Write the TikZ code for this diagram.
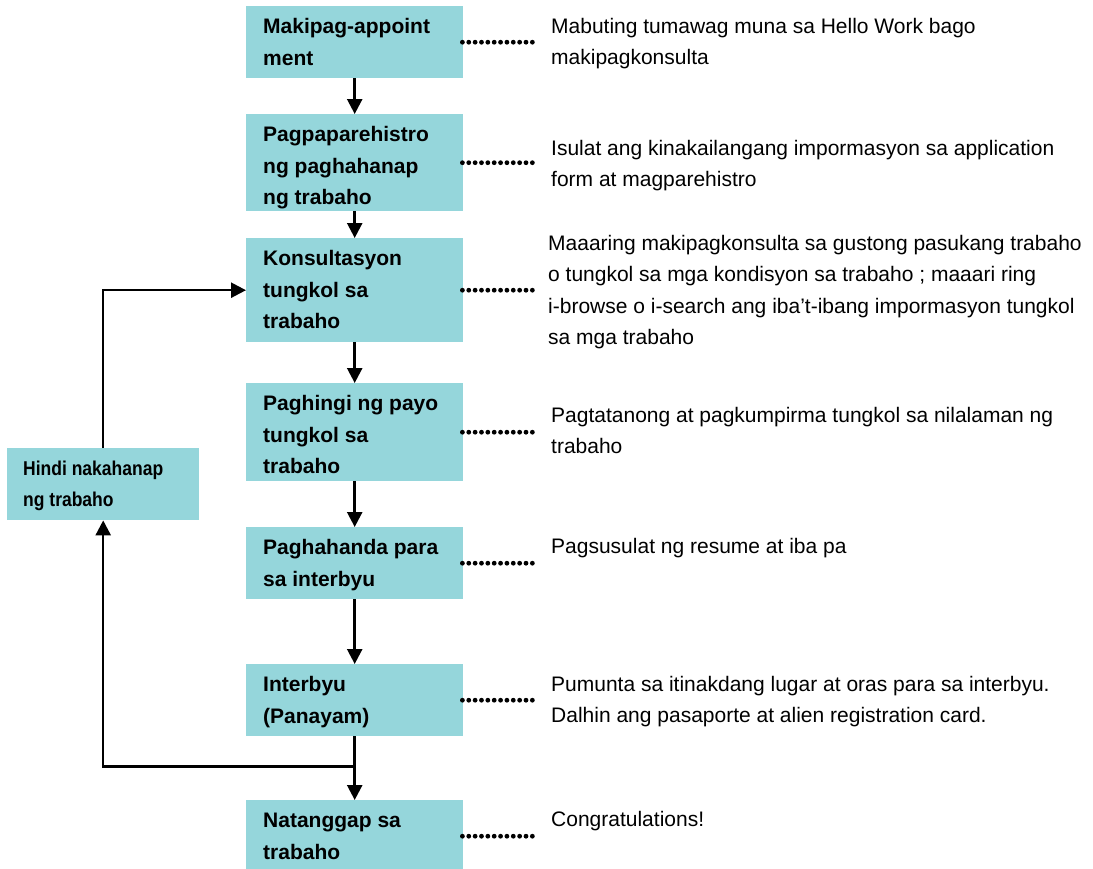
\documentclass[tikz,border=0pt]{standalone}
\usepackage{fontspec}
\setmainfont{Liberation Sans}
\newfontfamily\narrowfont[FakeStretch=0.875]{Liberation Sans}
\usetikzlibrary{arrows.meta}
\definecolor{boxc}{RGB}{149,214,219}

\newcommand\flowtext[2]{\parbox[c][#1][t]{217pt}{\fontsize{21pt}{31.5pt}\selectfont\bfseries\raggedright\leftskip=17pt\rule{0pt}{27.3pt}#2}}
\newcommand\desctext[1]{\parbox[t]{545pt}{\fontsize{21pt}{31.5pt}\selectfont\raggedright #1}}

\tikzset{
  flow/.style={fill=boxc, draw=none, inner sep=0pt, anchor=north west, minimum width=217pt},
  desc/.style={anchor=base west, inner sep=0pt},
  arr/.style={line width=2.5pt, -{Triangle[length=15pt,width=15pt]}},
  leader/.style={line width=4.8pt, line cap=round, dash pattern=on 0pt off 6.36pt}
}

\begin{document}
\begin{tikzpicture}[x=1pt,y=-1pt]
\useasboundingbox (0,0) rectangle (1093,868);

% main column boxes
\node[flow, minimum height=72pt] (B1) at (246,6) {\flowtext{72pt}{Makipag-appoint\\ment}};
\node[flow, minimum height=97pt] (B2) at (246,114) {\flowtext{97pt}{Pagpaparehistro\\ng paghahanap\\ng trabaho}};
\node[flow, minimum height=104pt] (B3) at (246,238) {\flowtext{104pt}{Konsultasyon\\tungkol sa\\trabaho}};
\node[flow, minimum height=98pt] (B4) at (246,383) {\flowtext{98pt}{Paghingi ng payo\\tungkol sa\\trabaho}};
\node[flow, minimum height=72pt] (B5) at (246,527) {\flowtext{72pt}{Paghahanda para\\sa interbyu}};
\node[flow, minimum height=72pt] (B6) at (246,664) {\flowtext{72pt}{Interbyu\\(Panayam)}};
\node[flow, minimum height=72pt] (B7) at (246,800) {\flowtext{72pt}{Natanggap sa\\trabaho}};

% left box
\node[flow, minimum width=192pt, minimum height=72pt] (L) at (7,448)
  {\parbox[c][72pt][t]{192pt}{\narrowfont\fontsize{20pt}{31pt}\selectfont\bfseries\raggedright\leftskip=16pt\rule{0pt}{27pt}Hindi nakahanap\\ng trabaho}};

% descriptions
\node[desc] (R1) at (551,33) {\desctext{Mabuting tumawag muna sa Hello Work bago\\makipagkonsulta}};
\node[desc] (R2) at (551,155) {\desctext{Isulat ang kinakailangang impormasyon sa application\\form at magparehistro}};
\node[desc] (R3) at (548,250) {\desctext{Maaaring makipagkonsulta sa gustong pasukang trabaho\\o tungkol sa mga kondisyon sa trabaho ; maaari ring\\i-browse o i-search ang iba’t-ibang impormasyon tungkol\\sa mga trabaho}};
\node[desc] (R4) at (551,422) {\desctext{Pagtatanong at pagkumpirma tungkol sa nilalaman ng\\trabaho}};
\node[desc] (R5) at (551,553) {\desctext{Pagsusulat ng resume at iba pa}};
\node[desc] (R6) at (551,691) {\desctext{Pumunta sa itinakdang lugar at oras para sa interbyu.\\Dalhin ang pasaporte at alien registration card.}};
\node[desc] (R7) at (551,826) {\desctext{Congratulations!}};

% dotted leaders
\foreach \b in {B1,B2,B3,B4,B5,B6,B7}{
  \path ([xshift=-1pt]\b.east) coordinate (s\b) ++(70,0) coordinate (d\b);
  \draw[leader] (s\b) -- (d\b);
}

% flow arrows
\draw[arr] (B1) -- (B2);
\draw[arr] (B2) -- (B3);
\draw[arr] (B3) -- (B4);
\draw[arr] (B4) -- (B5);
\draw[arr] (B5) -- (B6);
\draw[arr] (B6) -- (B7);

% loop back
\path (B6.south) ++(0,30) coordinate (J);
\draw[arr] (J) -| (L.south);
\draw[arr] (L.north) |- (B3.west);
\end{tikzpicture}
\end{document}
